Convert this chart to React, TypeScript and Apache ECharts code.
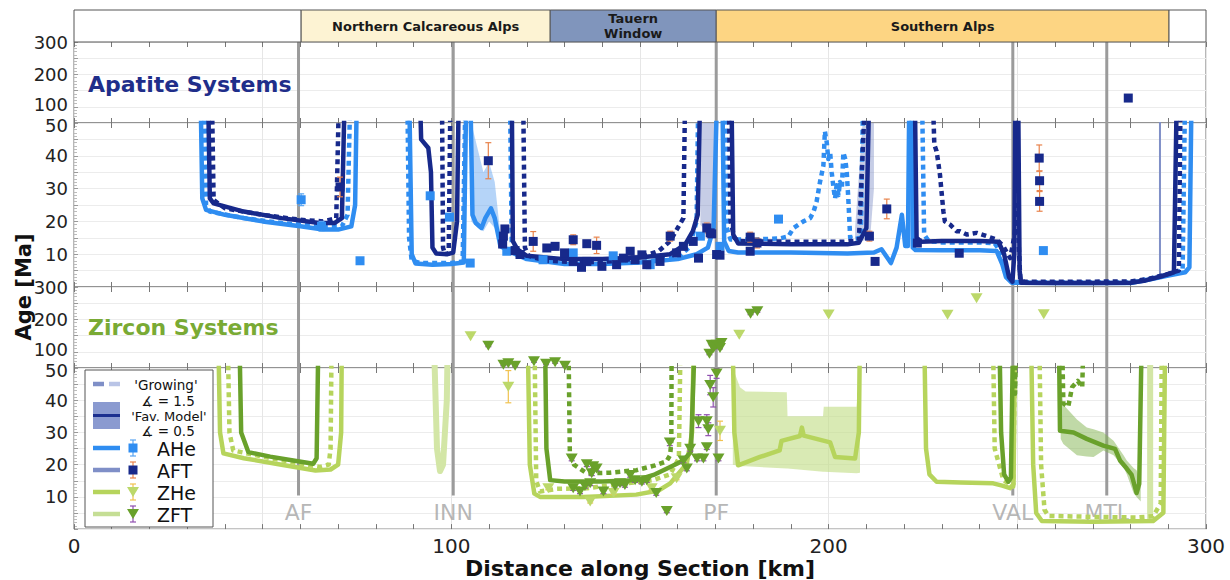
import React, { useEffect, useRef } from "react";
import * as echarts from "echarts";

const FONT = "DejaVu Sans";
const T = 62; // off-scale (above the 50 Ma panel top)

// ---------- structural data ----------
const faults = [
  { name: "AF", km: 59.5 },
  { name: "INN", km: 100.5 },
  { name: "PF", km: 170.2 },
  { name: "VAL", km: 248.8 },
  { name: "MTL", km: 273.7 },
];
const regionNames = ["", "Northern Calcareous Alps", "Tauern\nWindow", "Southern Alps", ""];
const regionFrom = [0, 60.2, 126.2, 170.2, 290.2];
const regionTo = [60.2, 126.2, 170.2, 290.2, 300];
const regionColors = ["#ffffff", "#fdf3d3", "#8095bc", "#fdd583", "#ffffff"];

const xTickLabels = [0, 100, 200, 300];
const upperTickLabels = [100, 200, 300];
const lowerTickLabels = [10, 20, 30, 40, 50];

// ---------- apatite model curves (km, Ma) ----------
const aheFav: number[][][] = [
  [[33.5, T], [34, 27], [35, 23.5], [40, 22], [50, 20], [60, 18.5], [66, 17.5], [70, 17.5], [73.5, 18.5], [74.5, 25], [75, T]],
  [[88.8, T], [89.5, 10], [90.5, 7.2], [95, 6.8], [100, 7], [103.3, 7.5], [104, T]],
  [[105, T], [105.6, 22], [106.5, 19.5], [108, 18], [109, 21], [110.5, 24], [111.5, 21], [113, 12.5], [116, 10.5], [120, 8.5], [130, 7], [140, 7], [150, 7.5], [160, 8.5], [165, 10], [168, 12], [169.5, 18], [170.5, T]],
  [[171.8, T], [172.3, 14], [173.5, 11], [176, 10.5], [190, 10.5], [205, 10.2], [212, 10.5], [214, 11.5], [215.5, 9], [216.5, 7.3], [218, 12], [219.4, 22], [220.3, 12.5], [221, 12.5], [221.4, T]],
  [[221.9, T], [222.3, 12], [223, 11.3], [230, 11.2], [240, 11.2], [244.5, 11], [246, 7], [247, 3], [248.5, 1.3], [260, 1.2], [280, 1.2], [285, 2.3], [290, 3.5], [294.5, 4.5], [295.6, 6], [296.2, T]],
];
const aheGrow: number[][][] = [
  [[34.5, T], [35, 25], [36, 23], [45, 21], [55, 19.5], [65, 18.5], [71, 18.5], [72.5, 22], [73.3, T]],
  [[88.3, T], [88.8, 15], [89.5, 8], [92, 7.3], [100, 7.3], [103, 7.8], [103.8, T]],
  [[115.5, T], [116, 14], [117, 11], [120, 9], [130, 7.5], [140, 7.5], [150, 7.5], [160, 9], [163, 12], [165, 20], [165.5, T]],
  [[172.5, T], [173, 18], [174, 14.5], [180, 14.5], [187, 14.8], [189.3, 15.4], [190.7, 18], [192, 19], [193.3, 20], [195.1, 21], [196, 23], [196.8, 26], [197.7, 32], [198.6, 37], [199, 47.5], [199.5, 44], [199.9, 39], [200.4, 41], [200.8, 35], [201.3, 30], [201.7, 27], [202.1, 31], [202.6, 28], [203, 32], [203.5, 30], [203.9, 41], [204.4, 39], [204.8, 35], [205.2, 27], [205.7, 15], [206.5, 14.5], [208.5, 15], [209.2, T]],
  [[224.7, T], [225.3, 16], [226.5, 14], [230, 13.6], [240, 13.6], [244, 13.3], [246, 10], [247.5, 4], [249, 1.5], [260, 1.4], [280, 1.4], [285, 2.5], [291, 4], [293.8, 5], [294.5, T]],
];
const aftFav: number[][][] = [
  [[35.5, T], [36, 27], [37, 25.5], [45, 23], [55, 21], [65, 19.5], [69, 19.5], [71, 21], [71.8, T]],
  [[91.6, T], [92, 45], [93.9, 42.4], [94.6, 35], [95, 12], [96, 10.2], [99, 10], [100.5, 10.5], [101.5, 20], [102, T]],
  [[116, T], [116.3, 14], [117.5, 11.5], [120, 9.5], [130, 8.5], [140, 8.5], [150, 9], [158, 10], [162, 13], [164, 17], [165.3, 22], [166, T]],
  [[174.2, T], [174.7, 16], [176, 13.3], [190, 13], [205, 13], [208, 13.5], [210, 18], [210.8, T]],
  [[222.8, T], [223.3, 15], [224.5, 13.8], [230, 14], [240, 14], [245, 13.8], [246.5, 10], [247.8, 3], [248.7, 1.6], [249.2, 10], [249.5, T]],
  [[250.2, T], [250.6, 5], [251, 1.3], [260, 1.2], [270, 1.2], [280, 1.3], [284, 2], [288, 3.2], [291.5, 4.5], [292.3, T]],
];
const aftGrow: number[][][] = [
  [[36.5, T], [37, 26.5], [40, 24], [50, 22], [60, 20.5], [66, 20], [69.5, 21], [70.3, T]],
  [[97.5, T], [97.8, 12], [98.3, 10], [99.3, 10.3], [99.8, T]],
  [[119, T], [119.5, 12], [120.5, 9.5], [125, 8], [135, 7.5], [145, 8], [150, 9], [155, 11], [158, 14], [160, 18], [161.5, 21], [162, T]],
  [[173.5, T], [174, 20], [175, 15], [176, 14], [190, 13.8], [204, 13.8], [208, 14.2], [209.8, T]],
  [[227.5, T], [228, 43.4], [228.6, 41.4], [229, 38.3], [229.5, 34.2], [229.9, 29.2], [230.4, 23.1], [230.8, 20], [232.2, 19], [233.9, 17], [234.8, 17], [236.6, 16], [239.2, 16.5], [241.9, 15.5], [244.6, 14.4], [246.3, 12.4], [248.1, 8.8], [249.3, 16], [250, 25], [250.4, 12], [250.8, 2], [252, 1.6], [265, 1.6], [280, 1.7], [285, 2.5], [290, 4], [292.8, 5], [293.3, T]],
];
const aftThin: number[][][] = [[[287.8, 3.5], [287.8, T]]];

// bands [km, low, high]
const aheBands: number[][][] = [
  [[105.3, 20, 50], [107, 18, 42], [108.5, 17, 35], [110, 20, 38], [111.5, 18, 32], [113, 12, 16], [115, 10.5, 12]],
];
const aftBands: number[][][] = [
  [[166, 19, 50], [167.5, 17, 50], [169, 16, 50], [170.4, 21, 50]],
  [[207, 13, 18], [209, 14, 50], [211, 15, 50], [212, 30, 50]],
];

// ---------- apatite data points [km, Ma, ±err] ----------
const aheLower = [
  [60.2, 26.6, 1.8], [65.6, 18.5, 1.5], [75.8, 8.0, 0.5], [94.4, 27.8, 0.8], [99.5, 21.3, 0.8], [105, 7.3, 0.8],
  [114.7, 10.9, 0.5], [124.3, 8.3, 0.5], [132.3, 10.4, 0.5], [142.9, 9.5, 0.5], [152.7, 6.8, 0.5], [166, 15.5, 0.5],
  [171.2, 12.4, 0.5], [186.7, 20.7, 0.5], [256.9, 11.1, 0.4],
];
const aftLower = [
  [70.5, 30.5, 3], [109.8, 38.5, 5.5], [114.2, 17.7, 1], [113.8, 15.5, 1], [113.6, 13.1, 1], [116.9, 11.1, 1],
  [118.2, 9.9, 1], [121.7, 13.9, 3], [125.3, 11.9, 1], [127.5, 12.4, 1], [130, 10.4, 1], [132.3, 14.4, 1.5],
  [135.9, 13.2, 1], [138.5, 12.7, 2.5], [132.3, 7.8, 1], [134.5, 6, 0.8], [135.9, 7.8, 1], [139.9, 6.3, 0.8],
  [143.8, 6.8, 1], [145.6, 8.8, 1], [147.4, 10.9, 1], [148.7, 8.3, 1], [150.5, 9.8, 1], [151.8, 6.8, 1],
  [155.3, 7.8, 1], [158, 15.5, 1.5], [159.7, 10.4, 1], [161.5, 12.4, 1], [164.1, 13.9, 1], [165.5, 8.8, 1],
  [167.7, 18, 1.5], [168.6, 16.5, 1], [170.3, 9.9, 1], [169, 16.2, 1], [171.2, 9.7, 1], [179.2, 15.2, 1.5],
  [181, 13.4, 1.5], [179.2, 10.9, 1], [210.8, 15.5, 1.5], [215.4, 23.8, 3], [212.3, 7.8, 0.5], [223.5, 13.4, 1],
  [234.6, 10.3, 1], [255.8, 39.3, 4], [255.9, 32.4, 3], [255.9, 26.1, 3],
];
const aftUpper = [[279.4, 127, 3]];

// ---------- zircon model curves ----------
const zheFav: number[][][] = [
  [[38.2, T], [38.7, 30], [39.6, 23.5], [45, 22], [55, 20], [64, 18.2], [68, 18.5], [70, 20], [70.8, 30], [71, T]],
  [[120.2, T], [120.8, 20], [122, 11], [123.5, 10], [135, 10], [149, 10.7], [155, 12], [158, 14.2], [160, 17], [162.4, 20.3], [163.8, 30], [164.3, T]],
  [[174.5, T], [175, 30], [176, 19.8], [181.8, 22.4], [187, 24.4], [187.5, 27.4], [192.4, 28.9], [192.9, 31.5], [193.4, 29], [200.4, 26.9], [201.7, 22.4], [207, 21.9], [208, 30], [208.3, T]],
  [[225.3, T], [225.8, 25], [226.7, 17], [228.6, 14.7], [235, 14.5], [243.6, 14.2], [246, 13.5], [248.1, 12.7], [249, 14], [249.4, T]],
  [[253.6, T], [254.2, 20], [255, 5], [256.5, 2.5], [270, 2.3], [286, 2.5], [288.7, 5.1], [289.2, T]],
];
const zhePale: number[][][] = [
  [[95.3, T], [96.2, 25], [97, 18], [97.8, 20], [98.8, 40], [99.1, T]],
  [[285.2, 3], [285.2, T]],
];
const zheGrow: number[][][] = [
  [[40.7, T], [41.2, 30], [42.2, 24.4], [50, 22.5], [60, 20.3], [65.2, 19.3], [67.5, 20], [68, 25], [68.3, T]],
  [[122, T], [122.5, 15], [123.5, 11.7], [128, 12.5], [135.9, 12.7], [145, 14], [153.5, 15.2], [158, 17], [160.3, 22], [160.8, T]],
  [[243.5, T], [244, 25], [246.3, 15.2], [248.9, 13.2], [249.5, T]],
  [[255.8, T], [256.3, 20], [257.2, 6], [258.2, 4.1], [270, 3.8], [281.6, 3.6], [286, 4], [288, 8], [288.3, T]],
];
const zftFav: number[][][] = [
  [[43.8, T], [44.3, 30], [46.2, 23.9], [52, 22.5], [58.1, 21.3], [63.4, 20.3], [64.3, 22], [64.8, T]],
  [[124.8, T], [125.2, 25], [126.2, 15.2], [130, 14.8], [140, 14.8], [149.1, 15.2], [154, 17], [158, 19.3], [161.5, 21.3], [163.5, 24], [164.6, T]],
  [[245.2, T], [245.7, 30], [246.5, 17], [247.6, 14.7], [248.3, 16], [248.9, T]],
  [[261, T], [261.3, 30.5], [264.9, 30], [268.4, 28], [272.8, 25.9], [275.9, 24.9], [277.2, 21.3], [279, 18.8], [280.3, 16.8], [281.6, 11.2], [282.3, 14], [283, T]],
];
const zftGrow: number[][][] = [
  [[131, T], [131.4, 24], [132.5, 20], [135.9, 17.3], [142, 17.5], [149.1, 18.3], [154, 19.8], [157, 21], [158, 23], [158.3, 27.4], [158.4, T]],
  [[249.2, T], [249.4, 42], [249.8, T]],
  [[261.8, T], [262.2, 39], [263.5, 38], [264.5, 44], [266, 46], [267.2, 44], [267.6, T]],
];
const zheBands: number[][][] = [
  [[174.6, 20, 50], [176.5, 19.5, 44], [178, 19.5, 42.7], [188.9, 18.8, 42.5], [189.1, 18.8, 35], [198.5, 17.8, 35], [198.7, 17.8, 38], [207.4, 17.3, 38], [208.3, 17.5, 50]],
];
const zftBands: number[][][] = [
  [[261.5, 28, 45], [262.2, 26.4, 38.6], [265.8, 22.9, 34], [268.4, 22.5, 31.5], [270.2, 22.4, 31], [272.8, 24.4, 30], [275.5, 22.9, 27.4], [278.1, 19.3, 23], [279, 17, 21.3], [280.8, 11.2, 19], [281.6, 10, 18.3], [282.7, 8.6, 13.2]],
];

// ---------- zircon data points [km, Ma, ±err] ----------
const zheUpper = [[105.1, 147.8, 0], [176.3, 153, 0], [200, 215, 0], [231.5, 214, 0], [239.2, 265, 0], [257, 216, 0]];
const zheLower = [[115.1, 44.2, 5], [125.7, 12.7, 0.5], [136.8, 8.6, 0.5], [143, 11.2, 0.5], [153.1, 12.7, 0.5], [159.7, 15.8, 0.5], [171.2, 30.5, 3]];
const zftUpper = [
  [109.8, 118.8, 3], [113.8, 60, 3], [115.1, 65, 3], [116.9, 57, 3], [121.9, 70.6, 3], [125.1, 63, 3], [127.5, 67.6, 3], [130.1, 57, 3],
  [168.4, 94, 3], [169, 122, 3], [170.3, 122, 3], [171.6, 127, 3], [169.5, 112, 3], [171.2, 112, 3], [179.3, 217.6, 3], [181.1, 225, 3],
];
const zftLower = [
  [131.9, 21.9, 0.7], [135.9, 20.1, 0.7], [137.6, 19.5, 0.7], [138.5, 18.8, 0.7], [137.2, 17.3, 0.7], [132.3, 12.7, 0.7],
  [134.1, 11.7, 0.7], [135.4, 13.4, 0.7], [136.8, 14.2, 0.7], [140.3, 11.7, 0.7], [143.4, 13.4, 0.7], [144.7, 14.2, 0.7],
  [146, 13.7, 0.7], [147.4, 16.8, 0.7], [148.7, 15.2, 0.7], [150.5, 14.7, 0.7], [151.8, 15.2, 0.7], [154.3, 11.2, 0.7],
  [157.1, 5.6, 0.5], [157.9, 26.9, 1], [161.5, 21.3, 0.7], [162.4, 18.8, 0.7], [163.3, 24.9, 0.7], [165.1, 21.9, 0.7],
  [166.8, 21.9, 0.7], [167.7, 25.4, 0.7], [170.8, 21.9, 0.7], [165.5, 33.5, 2], [167.7, 33.5, 2], [168.1, 31, 2],
  [168.6, 44.7, 3], [170.3, 48.3, 1.5], [169.4, 40.9, 3],
];

// ---------- styling ----------
const C = {
  ahe: "#2f8df1",
  aft: "#17298b",
  aftLeg: "#7f8fc7",
  zhe: "#b6d45c",
  zheTri: "#bcd86a",
  zhePale: "#d3e6a6",
  zft: "#69a12b",
  zftLeg: "#c5de95",
  aheBand: "rgba(120,176,242,0.55)",
  aftBand: "rgba(128,144,200,0.45)",
  zheBand: "rgba(196,222,140,0.65)",
  zftBand: "rgba(130,180,80,0.5)",
  errAft: "#e8834c",
  errAhe: "#5aa6f2",
  errZft: "#9050b0",
  errZhe: "#f1c24f",
  fault: "#9b9b9b",
  frame: "#6e6e6e",
};

const GRIDS = [
  { top: 10, height: 32 },
  { top: 42, height: 81 },
  { top: 123, height: 164 },
  { top: 287, height: 81 },
  { top: 368, height: 164 },
];

function lines(segs: number[][][], color: string, dashed: boolean, g: number, width = 4.5, z = 3) {
  return segs.map((seg) => ({
    type: "line",
    xAxisIndex: 2 * g - 1,
    yAxisIndex: g,
    data: seg,
    symbol: "none",
    showSymbol: false,
    clip: true,
    silent: true,
    z,
    lineStyle: { color, width, type: dashed ? [5, 4] : "solid", cap: "butt", join: "round" },
  }));
}

function bands(list: number[][][], fill: string, g: number) {
  return list.map((b) => ({
    type: "custom",
    xAxisIndex: 2 * g - 1,
    yAxisIndex: g,
    clip: true,
    silent: true,
    z: 2,
    data: [[b[0][0], b[0][1]]],
    renderItem: (_p: any, api: any) => {
      const pts: number[][] = [];
      b.forEach((d) => pts.push(api.coord([d[0], d[2]])));
      for (let i = b.length - 1; i >= 0; i--) pts.push(api.coord([b[i][0], b[i][1]]));
      return { type: "polygon", shape: { points: pts }, style: { fill, stroke: null } };
    },
  }));
}

function errors(data: number[][], color: string, g: number) {
  return {
    type: "custom",
    xAxisIndex: 2 * g - 1,
    yAxisIndex: g,
    clip: true,
    silent: true,
    z: 5,
    data: data.filter((d) => d[2] > 0),
    renderItem: (_p: any, api: any) => {
      const x = api.value(0), y = api.value(1), e = api.value(2);
      const a = api.coord([x, y + e]);
      const b = api.coord([x, y - e]);
      const w = 3;
      const st = { stroke: color, lineWidth: 1.2 };
      return {
        type: "group",
        children: [
          { type: "line", shape: { x1: a[0], y1: a[1], x2: b[0], y2: b[1] }, style: st },
          { type: "line", shape: { x1: a[0] - w, y1: a[1], x2: a[0] + w, y2: a[1] }, style: st },
          { type: "line", shape: { x1: b[0] - w, y1: b[1], x2: b[0] + w, y2: b[1] }, style: st },
        ],
      };
    },
  };
}

function points(data: number[][], color: string, g: number, tri: boolean) {
  return {
    type: "scatter",
    xAxisIndex: 2 * g - 1,
    yAxisIndex: g,
    silent: true,
    z: 6,
    clip: true,
    symbol: tri ? "triangle" : "rect",
    symbolRotate: tri ? 180 : 0,
    symbolSize: tri ? [12, 10] : 9,
    itemStyle: { color, opacity: 1 },
    data: data.map((d) => [d[0], d[1]]),
  };
}

function buildOption(): any {
  const grid = GRIDS.map((gd, i) => ({
    left: 74,
    right: 24,
    top: gd.top,
    height: gd.height,
    show: i > 0,
    borderColor: C.frame,
    borderWidth: 1,
    backgroundColor: "transparent",
  }));

  const tickStyle = { color: "#777", width: 1 };
  const xAxis: any[] = [{ gridIndex: 0, type: "value", min: 0, max: 300, show: false }];
  for (let g = 1; g <= 4; g++) {
    const bottom = g === 4;
    xAxis.push({
      gridIndex: g,
      type: "value",
      min: 0,
      max: 300,
      interval: 50,
      position: "bottom",
      axisLine: { show: false },
      axisTick: { show: true, inside: true, length: 5, lineStyle: tickStyle },
      minorTick: { show: true, splitNumber: 5, length: 5, lineStyle: tickStyle },
      splitLine: { show: true, lineStyle: { color: "#e6e6e6", width: 1 } },
      axisLabel: {
        show: bottom,
        formatter: (v: number) => (xTickLabels.includes(v) ? String(v) : ""),
        fontSize: 20,
        color: "#222",
        fontFamily: FONT,
        margin: 7,
      },
      name: bottom ? "Distance along Section [km]" : "",
      nameLocation: "middle",
      nameGap: 25,
      nameTextStyle: { fontSize: 22, fontWeight: "bold", color: "#111", fontFamily: FONT },
    });
    xAxis.push({
      gridIndex: g,
      type: "value",
      min: 0,
      max: 300,
      interval: 50,
      position: "top",
      axisLine: { show: false },
      axisTick: { show: true, inside: true, length: 5, lineStyle: tickStyle },
      minorTick: { show: true, splitNumber: 5, length: 5, lineStyle: tickStyle },
      splitLine: { show: false },
      axisLabel: { show: false },
    });
  }

  const labelRich = {
    up: { fontSize: 18, fontFamily: FONT, color: "#222", padding: [0, 0, 5, 0] },
    dn: { fontSize: 18, fontFamily: FONT, color: "#222", padding: [5, 0, 0, 0] },
  };
  const yAxis: any[] = [{ gridIndex: 0, type: "value", min: 0, max: 1, show: false }];
  for (let g = 1; g <= 4; g++) {
    const upper = g === 1 || g === 3;
    yAxis.push({
      gridIndex: g,
      type: "value",
      min: upper ? 50 : 0,
      max: upper ? 300 : 50,
      interval: upper ? 50 : 5,
      axisLine: { show: false },
      axisTick: { show: true, inside: true, length: 4, lineStyle: { color: "#999" } },
      minorTick: { show: true, splitNumber: 5, length: 3, lineStyle: { color: "#bbb" } },
      splitLine: { show: true, lineStyle: { color: "#ececec", width: 1 } },
      axisLabel: {
        showMinLabel: true,
        showMaxLabel: true,
        formatter: (v: number) => {
          if (upper) {
            if (!upperTickLabels.includes(v)) return "";
            return v === 100 ? `{up|${v}}` : String(v);
          }
          if (!lowerTickLabels.includes(v)) return "";
          return v === 50 ? `{dn|${v}}` : String(v);
        },
        rich: labelRich,
        fontSize: 18,
        color: "#222",
        fontFamily: FONT,
        margin: 6,
      },
    });
  }

  const series: any[] = [];

  // region strip
  series.push({
    type: "custom",
    xAxisIndex: 0,
    yAxisIndex: 0,
    silent: true,
    data: regionNames.map((_n, i) => [regionFrom[i], regionTo[i]]),
    renderItem: (p: any, api: any) => {
      const i = p.dataIndex;
      const a = api.coord([regionFrom[i], 1]);
      const b = api.coord([regionTo[i], 0]);
      return {
        type: "group",
        children: [
          {
            type: "rect",
            shape: { x: a[0], y: a[1], width: b[0] - a[0], height: b[1] - a[1] },
            style: { fill: regionColors[i], stroke: "#555", lineWidth: 1 },
          },
          {
            type: "text",
            style: {
              text: regionNames[i],
              x: (a[0] + b[0]) / 2,
              y: (a[1] + b[1]) / 2,
              font: `bold 13px "${FONT}"`,
              fill: "#1a1a1a",
              align: "center",
              verticalAlign: "middle",
              textAlign: "center",
              textVerticalAlign: "middle",
              lineHeight: 15,
            },
          },
        ],
      };
    },
  });

  // fault lines
  for (let g = 1; g <= 4; g++) {
    const upper = g === 1 || g === 3;
    faults.forEach((f) => {
      series.push({
        type: "line",
        xAxisIndex: 2 * g - 1,
        yAxisIndex: g,
        data: [
          [f.km, upper ? 50 : g === 4 ? 10.4 : 0],
          [f.km, upper ? 300 : 50],
        ],
        symbol: "none",
        silent: true,
        z: 1,
        lineStyle: { color: C.fault, width: 3 },
      });
    });
  }
  series.push({
    type: "scatter",
    xAxisIndex: 7,
    yAxisIndex: 4,
    symbolSize: 0,
    silent: true,
    data: faults.map((f) => ({ value: [f.km, 5.3], name: f.name })),
    label: {
      show: true,
      position: "inside",
      formatter: "{b}",
      fontSize: 22,
      color: "#a3a3a3",
      fontFamily: FONT,
    },
  });

  // bands
  series.push(...bands(aheBands, C.aheBand, 2));
  series.push(...bands(aftBands, C.aftBand, 2));
  series.push(...bands(zheBands, C.zheBand, 4));
  series.push(...bands(zftBands, C.zftBand, 4));

  // apatite lines
  series.push(...lines(aftThin, C.aftLeg, false, 2, 2));
  series.push(...lines(aheFav, C.ahe, false, 2));
  series.push(...lines(aheGrow, C.ahe, true, 2));
  series.push(...lines(aftFav, C.aft, false, 2));
  series.push(...lines(aftGrow, C.aft, true, 2));

  // zircon lines
  series.push(...lines(zhePale, C.zhePale, false, 4, 6));
  series.push(...lines(zheFav, C.zhe, false, 4));
  series.push(...lines(zheGrow, C.zhe, true, 4));
  series.push(...lines(zftFav, C.zft, false, 4));
  series.push(...lines(zftGrow, C.zft, true, 4));

  // error bars
  series.push(errors(aheLower, C.errAhe, 2));
  series.push(errors(aftLower, C.errAft, 2));
  series.push(errors(aftUpper, C.errAft, 1));
  series.push(errors(zheLower, C.errZhe, 4));
  series.push(errors(zftLower, C.errZft, 4));
  series.push(errors(zftUpper, C.errZft, 3));

  // points
  series.push(points(aheLower, C.ahe, 2, false));
  series.push(points(aftLower, C.aft, 2, false));
  series.push(points(aftUpper, C.aft, 1, false));
  series.push(points(zheLower, C.zheTri, 4, true));
  series.push(points(zheUpper, C.zheTri, 3, true));
  series.push(points(zftLower, C.zft, 4, true));
  series.push(points(zftUpper, C.zft, 3, true));

  const txt = (text: string, x: number, y: number, font: string, fill: string, align = "center") => ({
    type: "text",
    style: { text, x, y, font, fill, align, verticalAlign: "middle", textAlign: align, textVerticalAlign: "middle" },
    z: 20,
  });
  const ln = (x1: number, y1: number, x2: number, y2: number, stroke: string, lineWidth: number) => ({
    type: "line",
    shape: { x1, y1, x2, y2 },
    style: { stroke, lineWidth },
    z: 20,
  });
  const legendRow = (y: number, lineColor: string, errColor: string, mark: string, markColor: string, label: string) => {
    const items: any[] = [ln(93, y, 120, y, lineColor, 4.5), ln(133, y - 8, 133, y + 8, errColor, 1.2), ln(130, y - 8, 136, y - 8, errColor, 1.2), ln(130, y + 8, 136, y + 8, errColor, 1.2)];
    if (mark === "rect") {
      items.push({ type: "rect", shape: { x: 128.5, y: y - 4.5, width: 9, height: 9 }, style: { fill: markColor }, z: 21 });
    } else {
      items.push({ type: "polygon", shape: { points: [[127, y - 5], [139, y - 5], [133, y + 5]] }, style: { fill: markColor }, z: 21 });
    }
    items.push(txt(label, 157, y + 1, `19px "${FONT}"`, "#111", "left"));
    return items;
  };

  const graphic: any[] = [
    txt("Apatite Systems", 88, 84, `bold 22px "${FONT}"`, "#1f2e8a", "left"),
    txt("Zircon Systems", 88, 327, `bold 22px "${FONT}"`, "#79aa34", "left"),
    {
      type: "text",
      x: 24,
      y: 287,
      rotation: Math.PI / 2,
      style: { text: "Age [Ma]", x: 0, y: 0, font: `bold 21px "${FONT}"`, fill: "#111", align: "center", verticalAlign: "middle", textAlign: "center", textVerticalAlign: "middle" },
      z: 20,
    },
    { type: "rect", shape: { x: 85, y: 370, width: 128, height: 157 }, style: { fill: "#fff", stroke: "#555", lineWidth: 1 }, z: 19 },
    ln(93, 384, 104, 384, C.aftLeg, 4.5),
    ln(109, 384, 120, 384, "#b9c4e6", 4.5),
    txt("'Growing'", 166, 385, `13.5px "${FONT}"`, "#111"),
    txt("∡ = 1.5", 168, 401, `13.5px "${FONT}"`, "#111"),
    { type: "rect", shape: { x: 93, y: 402, width: 27, height: 27 }, style: { fill: "#8a9ad0" }, z: 20 },
    ln(93, 415.5, 120, 415.5, "#1b2f8f", 3),
    txt("'Fav. Model'", 169, 416, `13px "${FONT}"`, "#111"),
    txt("∡ = 0.5", 168, 431, `13.5px "${FONT}"`, "#111"),
    ...legendRow(448, C.ahe, C.errAhe, "rect", C.ahe, "AHe"),
    ...legendRow(470, C.aftLeg, C.errAft, "rect", C.aft, "AFT"),
    ...legendRow(492, C.zhe, C.errZhe, "tri", C.zheTri, "ZHe"),
    ...legendRow(514, C.zftLeg, C.errZft, "tri", C.zft, "ZFT"),
  ];

  return {
    animation: false,
    backgroundColor: "#ffffff",
    textStyle: { fontFamily: FONT },
    grid,
    xAxis,
    yAxis,
    series,
    graphic,
  };
}

export default function App() {
  const ref = useRef<HTMLDivElement>(null);
  useEffect(() => {
    if (!ref.current) return;
    const chart = echarts.init(ref.current, undefined, { renderer: "svg" });
    chart.setOption(buildOption());
    return () => chart.dispose();
  }, []);
  return (
    <div
      ref={ref}
      style={{ position: "fixed", left: 0, top: 0, width: 1230, height: 580, background: "#fff" }}
    />
  );
}
